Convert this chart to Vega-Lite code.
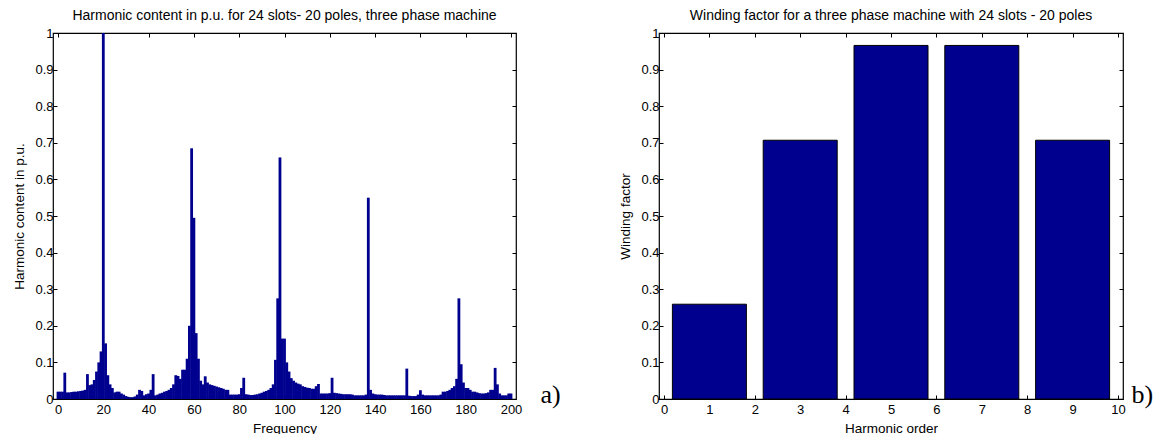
{
  "$schema": "https://vega.github.io/schema/vega-lite/v6.json",
  "background": "white",
  "padding": {"left": 12, "top": 8, "right": 5, "bottom": 5},
  "spacing": 143,
  "bounds": "flush",
  "config": {
    "view": {"stroke": "black", "strokeWidth": 1.2},
    "axis": {"domain": false, "grid": false, "tickColor": "black", "tickSize": -4, "tickWidth": 1,
      "labelFont": "Liberation Sans", "labelFontSize": 13, "labelColor": "black", "labelPadding": 6,
      "titleFont": "Liberation Sans", "titleFontSize": 13.5, "titleFontWeight": "normal", "titleColor": "black"},
    "axisLeft": {"labelPadding": 4, "titlePadding": 8},
    "axisBottom": {"labelPadding": 8, "titlePadding": 5},
    "title": {"font": "Liberation Sans", "fontSize": 14, "fontWeight": "normal", "color": "black", "offset": 4}
  },
  "hconcat": [
    {
      "width": 463, "height": 366,
      "title": "Harmonic content in p.u. for 24 slots- 20 poles, three phase machine",
      "data": {"values": [
        {"f":0,"v":0.02},{"f":1,"v":0.02},{"f":2,"v":0.02},{"f":3,"v":0.072},{"f":4,"v":0.018},{"f":5,"v":0.018},{"f":6,"v":0.019},{"f":7,"v":0.02},{"f":8,"v":0.02},{"f":9,"v":0.021},
        {"f":10,"v":0.022},{"f":11,"v":0.023},{"f":12,"v":0.025},{"f":13,"v":0.068},{"f":14,"v":0.038},{"f":15,"v":0.04},{"f":16,"v":0.052},{"f":17,"v":0.075},{"f":18,"v":0.1},{"f":19,"v":0.13},
        {"f":20,"v":1.0},{"f":21,"v":0.152},{"f":22,"v":0.065},{"f":23,"v":0.04},{"f":24,"v":0.03},{"f":25,"v":0.018},{"f":26,"v":0.02},{"f":27,"v":0.02},{"f":28,"v":0.015},{"f":29,"v":0.012},
        {"f":30,"v":0.008},{"f":31,"v":0.006},{"f":32,"v":0.005},{"f":33,"v":0.005},{"f":34,"v":0.007},{"f":35,"v":0.012},{"f":36,"v":0.025},{"f":37,"v":0.022},{"f":38,"v":0.01},{"f":39,"v":0.013},
        {"f":40,"v":0.015},{"f":41,"v":0.025},{"f":42,"v":0.068},{"f":43,"v":0.01},{"f":44,"v":0.012},{"f":45,"v":0.015},{"f":46,"v":0.017},{"f":47,"v":0.02},{"f":48,"v":0.022},{"f":49,"v":0.025},
        {"f":50,"v":0.03},{"f":51,"v":0.04},{"f":52,"v":0.065},{"f":53,"v":0.063},{"f":54,"v":0.055},{"f":55,"v":0.08},{"f":56,"v":0.08},{"f":57,"v":0.11},{"f":58,"v":0.2},{"f":59,"v":0.685},
        {"f":60,"v":0.495},{"f":61,"v":0.18},{"f":62,"v":0.11},{"f":63,"v":0.05},{"f":64,"v":0.04},{"f":65,"v":0.062},{"f":66,"v":0.045},{"f":67,"v":0.04},{"f":68,"v":0.038},{"f":69,"v":0.036},
        {"f":70,"v":0.034},{"f":71,"v":0.032},{"f":72,"v":0.03},{"f":73,"v":0.028},{"f":74,"v":0.025},{"f":75,"v":0.025},{"f":76,"v":0.012},{"f":77,"v":0.012},{"f":78,"v":0.012},{"f":79,"v":0.012},
        {"f":80,"v":0.013},{"f":81,"v":0.03},{"f":82,"v":0.058},{"f":83,"v":0.013},{"f":84,"v":0.012},{"f":85,"v":0.011},{"f":86,"v":0.011},{"f":87,"v":0.012},{"f":88,"v":0.013},{"f":89,"v":0.015},
        {"f":90,"v":0.017},{"f":91,"v":0.02},{"f":92,"v":0.022},{"f":93,"v":0.025},{"f":94,"v":0.03},{"f":95,"v":0.04},{"f":96,"v":0.107},{"f":97,"v":0.275},{"f":98,"v":0.66},{"f":99,"v":0.165},
        {"f":100,"v":0.165},{"f":101,"v":0.1},{"f":102,"v":0.075},{"f":103,"v":0.057},{"f":104,"v":0.05},{"f":105,"v":0.045},{"f":106,"v":0.042},{"f":107,"v":0.04},{"f":108,"v":0.035},{"f":109,"v":0.033},
        {"f":110,"v":0.031},{"f":111,"v":0.03},{"f":112,"v":0.028},{"f":113,"v":0.028},{"f":114,"v":0.035},{"f":115,"v":0.041},{"f":116,"v":0.015},{"f":117,"v":0.015},{"f":118,"v":0.015},{"f":119,"v":0.015},
        {"f":120,"v":0.016},{"f":121,"v":0.058},{"f":122,"v":0.017},{"f":123,"v":0.016},{"f":124,"v":0.015},{"f":125,"v":0.014},{"f":126,"v":0.013},{"f":127,"v":0.013},{"f":128,"v":0.013},{"f":129,"v":0.013},
        {"f":130,"v":0.012},{"f":131,"v":0.01},{"f":132,"v":0.01},{"f":133,"v":0.01},{"f":134,"v":0.01},{"f":135,"v":0.01},{"f":136,"v":0.012},{"f":137,"v":0.55},{"f":138,"v":0.025},{"f":139,"v":0.015},
        {"f":140,"v":0.013},{"f":141,"v":0.012},{"f":142,"v":0.012},{"f":143,"v":0.012},{"f":144,"v":0.011},{"f":145,"v":0.01},{"f":146,"v":0.01},{"f":147,"v":0.01},{"f":148,"v":0.01},{"f":149,"v":0.01},
        {"f":150,"v":0.01},{"f":151,"v":0.01},{"f":152,"v":0.01},{"f":153,"v":0.01},{"f":154,"v":0.083},{"f":155,"v":0.009},{"f":156,"v":0.008},{"f":157,"v":0.008},{"f":158,"v":0.008},{"f":159,"v":0.012},
        {"f":160,"v":0.024},{"f":161,"v":0.012},{"f":162,"v":0.01},{"f":163,"v":0.01},{"f":164,"v":0.01},{"f":165,"v":0.01},{"f":166,"v":0.01},{"f":167,"v":0.01},{"f":168,"v":0.01},{"f":169,"v":0.012},
        {"f":170,"v":0.02},{"f":171,"v":0.02},{"f":172,"v":0.022},{"f":173,"v":0.025},{"f":174,"v":0.03},{"f":175,"v":0.035},{"f":176,"v":0.055},{"f":177,"v":0.275},{"f":178,"v":0.095},{"f":179,"v":0.045},
        {"f":180,"v":0.03},{"f":181,"v":0.03},{"f":182,"v":0.025},{"f":183,"v":0.02},{"f":184,"v":0.02},{"f":185,"v":0.018},{"f":186,"v":0.016},{"f":187,"v":0.015},{"f":188,"v":0.015},{"f":189,"v":0.016},
        {"f":190,"v":0.018},{"f":191,"v":0.025},{"f":192,"v":0.025},{"f":193,"v":0.085},{"f":194,"v":0.04},{"f":195,"v":0.015},{"f":196,"v":0.01},{"f":197,"v":0.01},{"f":198,"v":0.01},{"f":199,"v":0.015},
        {"f":200,"v":0.015}
      ]},
      "layer": [
        {
          "mark": {"type": "bar", "width": 2.8, "color": "#00008F", "clip": true},
          "encoding": {
            "x": {"field": "f", "type": "quantitative", "scale": {"domain": [0, 200], "nice": false, "zero": false},
              "axis": {"orient": "bottom", "values": [0,20,40,60,80,100,120,140,160,180,200], "format": "d", "title": "Frequency"}},
            "y": {"field": "v", "type": "quantitative", "scale": {"domain": [0, 1], "nice": false},
              "axis": {"orient": "left", "values": [0,0.1,0.2,0.3,0.4,0.5,0.6,0.7,0.8,0.9,1], "format": "~g", "title": "Harmonic content in p.u."}}
          }
        },
        {
          "mark": {"type": "bar", "opacity": 0},
          "encoding": {
            "x": {"field": "f", "type": "quantitative", "axis": {"orient": "top", "values": [0,20,40,60,80,100,120,140,160,180,200], "labels": false, "title": null}},
            "y": {"field": "v", "type": "quantitative", "axis": {"orient": "right", "values": [0,0.1,0.2,0.3,0.4,0.5,0.6,0.7,0.8,0.9,1], "labels": false, "title": null}}
          }
        },
        {
          "data": {"values": [{"label": "a)"}]},
          "mark": {"type": "text", "font": "Liberation Serif", "fontSize": 26, "align": "left", "baseline": "alphabetic", "color": "black"},
          "encoding": {
            "x": {"datum": 213, "type": "quantitative", "axis": null},
            "y": {"datum": -0.012, "type": "quantitative", "axis": null},
            "text": {"field": "label"}
          }
        }
      ],
      "resolve": {"axis": {"x": "independent", "y": "independent"}}
    },
    {
      "width": 464, "height": 366,
      "title": "Winding factor for a three phase machine with 24 slots - 20 poles",
      "data": {"values": [
        {"h": 1, "wf": 0.259}, {"h": 3, "wf": 0.707}, {"h": 5, "wf": 0.966}, {"h": 7, "wf": 0.966}, {"h": 9, "wf": 0.707}
      ]},
      "layer": [
        {
          "mark": {"type": "bar", "width": 74, "color": "#00008F", "stroke": "black", "strokeWidth": 1},
          "encoding": {
            "x": {"field": "h", "type": "quantitative", "scale": {"domain": [0, 10], "nice": false, "zero": false},
              "axis": {"orient": "bottom", "values": [0,1,2,3,4,5,6,7,8,9,10], "format": "d", "title": "Harmonic order"}},
            "y": {"field": "wf", "type": "quantitative", "scale": {"domain": [0, 1], "nice": false},
              "axis": {"orient": "left", "values": [0,0.1,0.2,0.3,0.4,0.5,0.6,0.7,0.8,0.9,1], "format": "~g", "title": "Winding factor"}}
          }
        },
        {
          "mark": {"type": "bar", "opacity": 0},
          "encoding": {
            "x": {"field": "h", "type": "quantitative", "axis": {"orient": "top", "values": [0,1,2,3,4,5,6,7,8,9,10], "labels": false, "title": null}},
            "y": {"field": "wf", "type": "quantitative", "axis": {"orient": "right", "values": [0,0.1,0.2,0.3,0.4,0.5,0.6,0.7,0.8,0.9,1], "labels": false, "title": null}}
          }
        },
        {
          "data": {"values": [{"label": "b)"}]},
          "mark": {"type": "text", "font": "Liberation Serif", "fontSize": 26, "align": "left", "baseline": "alphabetic", "color": "black"},
          "encoding": {
            "x": {"datum": 10.3, "type": "quantitative", "axis": null},
            "y": {"datum": -0.012, "type": "quantitative", "axis": null},
            "text": {"field": "label"}
          }
        }
      ],
      "resolve": {"axis": {"x": "independent", "y": "independent"}}
    }
  ]
}
